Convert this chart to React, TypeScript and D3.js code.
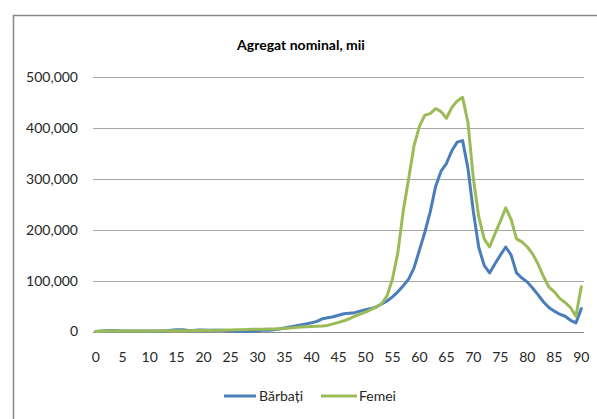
import React from "react";
import * as d3 from "d3";

const ages: number[] = d3.range(0, 91);
const xTickLabels: number[] = d3.range(0, 91, 5);
const yTicks: number[] = [0, 100000, 200000, 300000, 400000, 500000];

const barbati: number[] = [
  0, 1000, 1500, 2000, 1500, 1200, 1000, 1000, 1000, 1000,
  1000, 1000, 1200, 1500, 2500, 3500, 3500, 2500, 2000, 3000,
  3000, 2500, 2500, 2500, 2000, 1000, 0, 0, 0, 500,
  1500, 2500, 2500, 3500, 5000, 7000, 9000, 11000, 13000, 15000,
  17000, 20000, 25000, 27000, 29000, 32000, 35000, 36000, 37000, 40000,
  43000, 45000, 48000, 54000, 60000, 68000, 78000, 90000, 103000, 125000,
  160000, 195000, 235000, 285000, 315000, 330000, 355000, 372000, 375000, 320000,
  235000, 165000, 130000, 115000, 133000, 150000, 166000, 150000, 115000, 105000,
  97000, 85000, 72000, 58000, 47000, 40000, 34000, 30000, 22000, 17000,
  45000,
];

const femei: number[] = [
  0, 500, 1000, 1000, 1000, 1000, 1000, 1000, 1000, 1000,
  1200, 1200, 1300, 1400, 1500, 1500, 1600, 1700, 1800, 1900,
  2000, 2200, 2400, 2600, 2800, 3000, 3300, 3600, 4000, 4300,
  4500, 4600, 4800, 5000, 5500, 6000, 7000, 8000, 9000, 9500,
  10000, 10500, 11000, 12000, 15000, 18000, 21000, 25000, 30000, 34000,
  38000, 43000, 48000, 55000, 70000, 103000, 155000, 237000, 300000, 365000,
  403000, 425000, 428000, 438000, 432000, 419000, 440000, 453000, 460000, 410000,
  300000, 225000, 182000, 166000, 192000, 217000, 243000, 220000, 182000, 176000,
  166000, 152000, 132000, 108000, 87000, 78000, 65000, 57000, 47000, 30000,
  88000,
];

const seriesNames = ["Bărbați", "Femei"];
const seriesColors = ["#4a7ebb", "#9bbb59"];

const W = 597;
const H = 419;
const FONT = "Lato, 'Open Sans', sans-serif";

export default function App() {
  const x = d3
    .scalePoint<number>()
    .domain(ages)
    .range([93, 584])
    .padding(0.5);
  const y = d3.scaleLinear().domain([0, 500000]).range([331.5, 77]);
  const fmt = d3.format(",");
  const line = d3
    .line<number>()
    .x((_, i) => x(ages[i]) as number)
    .y((d) => y(Math.max(0, d)));

  const series = [barbati, femei];

  return (
    <svg
      width={W}
      height={H}
      style={{ position: "absolute", left: 0, top: 0, background: "#fff" }}
      fontFamily={FONT}
    >
      <rect x={0} y={0} width={W} height={H} fill="#fff" />
      {/* frame */}
      <path d={`M13.5,${H + 5} V15.5 H${W + 5}`} fill="none" stroke="#878787" strokeWidth={1.5} />
      <text
        x={301}
        y={50}
        textAnchor="middle"
        fontWeight="bold"
        fontSize={14}
        fill="#000"
      >
        Agregat nominal, mii
      </text>
      {/* gridlines */}
      {yTicks.map((t) => (
        <g key={t}>
          <line
            x1={93}
            x2={584}
            y1={Math.round(y(t)) + 0.5}
            y2={Math.round(y(t)) + 0.5}
            stroke={t === 0 ? "#8c8c8c" : "#a6a6a6"}
            strokeWidth={1}
          />
          <text
            x={78}
            y={y(t)}
            dy="0.35em"
            textAnchor="end"
            fontSize={14}
            fill="#262626"
          >
            {fmt(t)}
          </text>
        </g>
      ))}
      {xTickLabels.map((t) => (
        <text
          key={t}
          x={x(t) as number}
          y={357}
          dy="0.35em"
          textAnchor="middle"
          fontSize={14}
          fill="#262626"
        >
          {t}
        </text>
      ))}
      {series.map((s, i) => (
        <path
          key={i}
          d={line(s) || ""}
          fill="none"
          stroke={seriesColors[i]}
          strokeWidth={3}
          strokeLinejoin="round"
          strokeLinecap="round"
        />
      ))}
      {/* legend */}
      <g>
        <line x1={224} x2={256} y1={396} y2={396} stroke={seriesColors[0]} strokeWidth={3} />
        <text x={259} y={396} dy="0.35em" fontSize={14} fill="#262626">
          {seriesNames[0]}
        </text>
        <line x1={321} x2={357} y1={396} y2={396} stroke={seriesColors[1]} strokeWidth={3} />
        <text x={359} y={396} dy="0.35em" fontSize={14} fill="#262626">
          {seriesNames[1]}
        </text>
      </g>
    </svg>
  );
}
